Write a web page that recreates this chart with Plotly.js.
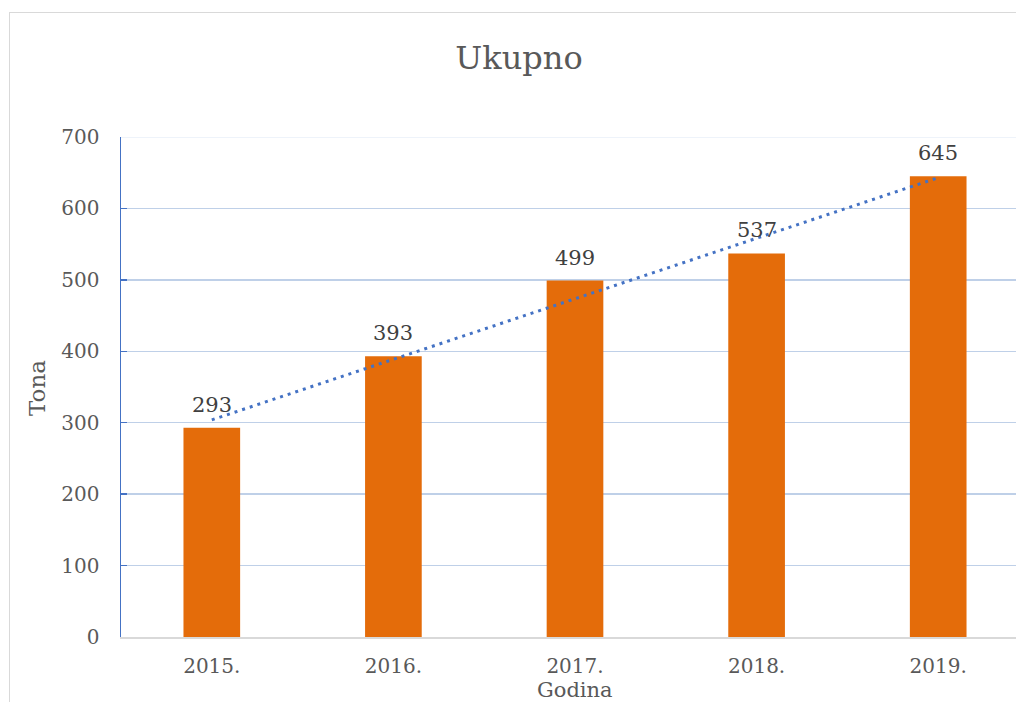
<!DOCTYPE html>
<html>
<head>
<meta charset="utf-8">
<script src="https://cdn.plot.ly/plotly-3.0.1.min.js"></script>
<style>
html,body{margin:0;padding:0;background:#fff;overflow:hidden;width:1016px;height:702px;}
#frame{position:absolute;left:9px;top:12px;width:1200px;height:900px;border:1px solid #d9d9d9;box-sizing:border-box;}
#chart{position:absolute;left:0;top:0;}
</style>
</head>
<body>
<div id="frame"></div>
<div id="chart"></div>
<script>
const categories = ["2015.", "2016.", "2017.", "2018.", "2019."];
const values = [293, 393, 499, 537, 645];
const trendX = ["2015.", "2019."];
const trendY = [304, 643];
const yTicks = [0, 100, 200, 300, 400, 500, 600, 700];

const FONT = "DejaVu Serif, Liberation Serif, serif";
const W = 1040, H = 702;

const bars = {
  type: "bar",
  x: categories,
  y: values,
  marker: {color: "#E46C0A", line: {width: 0}},
  hoverinfo: "skip"
};
const trend = {
  type: "scatter",
  mode: "lines",
  x: trendX,
  y: trendY,
  line: {color: "#4472C4", width: 3, dash: "3px,5px"},
  hoverinfo: "skip"
};

const labelAnns = categories.map((c, i) => ({
  x: categories.indexOf(c), y: values[i], xref: "x", yref: "y",
  text: String(values[i]), showarrow: false,
  yanchor: "bottom", yshift: 9,
  font: {family: FONT, size: 21, color: "#404040"}
}));

const layout = {
  width: W, height: H,
  margin: {l: 121, r: W - 1029, t: 137, b: 65, pad: 0},
  paper_bgcolor: "rgba(0,0,0,0)",
  plot_bgcolor: "rgba(0,0,0,0)",
  showlegend: false,
  bargap: 0.688,
  title: {
    text: "Ukupno", xref: "container", x: 519 / W, xanchor: "center",
    yref: "container", y: 1 - 58 / H, yanchor: "middle",
    font: {family: FONT, size: 32, color: "#595959"}
  },
  xaxis: {
    type: "category",
    categoryorder: "array", categoryarray: categories,
    range: [-0.5, categories.length - 0.5],
    autorange: false,
    showgrid: false,
    showline: true, linecolor: "#d9d9d9", linewidth: 1.5,
    ticks: "", ticklabelstandoff: 10,
    tickfont: {family: FONT, size: 20, color: "#595959"},
    zeroline: false
  },
  yaxis: {
    range: [0, 700],
    autorange: false,
    tickvals: yTicks,
    ticktext: yTicks.map(String),
    showgrid: true, gridcolor: "#bfd0e8", gridwidth: 1.5,
    showline: true, linecolor: "#4472C4", linewidth: 1.5,
    ticks: "inside", ticklen: 6, tickcolor: "#4472C4", tickwidth: 1.5,
    ticklabelstandoff: 16,
    tickfont: {family: FONT, size: 20, color: "#595959"},
    zeroline: false
  },
  shapes: [
    {type: "line", xref: "paper", yref: "y", x0: 0, x1: 1, y0: 700, y1: 700,
     line: {color: "#eef3fa", width: 2}, layer: "above"}
  ],
  annotations: labelAnns.concat([
    {xref: "paper", yref: "paper", x: (575 - 121) / 908, y: -(690 - 637) / 500,
     text: "Godina", showarrow: false, xanchor: "center", yanchor: "middle",
     font: {family: FONT, size: 21, color: "#595959"}},
    {xref: "paper", yref: "paper", x: (37 - 121) / 908, y: (637 - 388) / 500,
     text: "Tona", showarrow: false, xanchor: "center", yanchor: "middle", textangle: -90,
     font: {family: FONT, size: 23, color: "#595959"}}
  ])
};

Plotly.newPlot("chart", [bars, trend], layout, {displayModeBar: false, staticPlot: true});
</script>
</body>
</html>
